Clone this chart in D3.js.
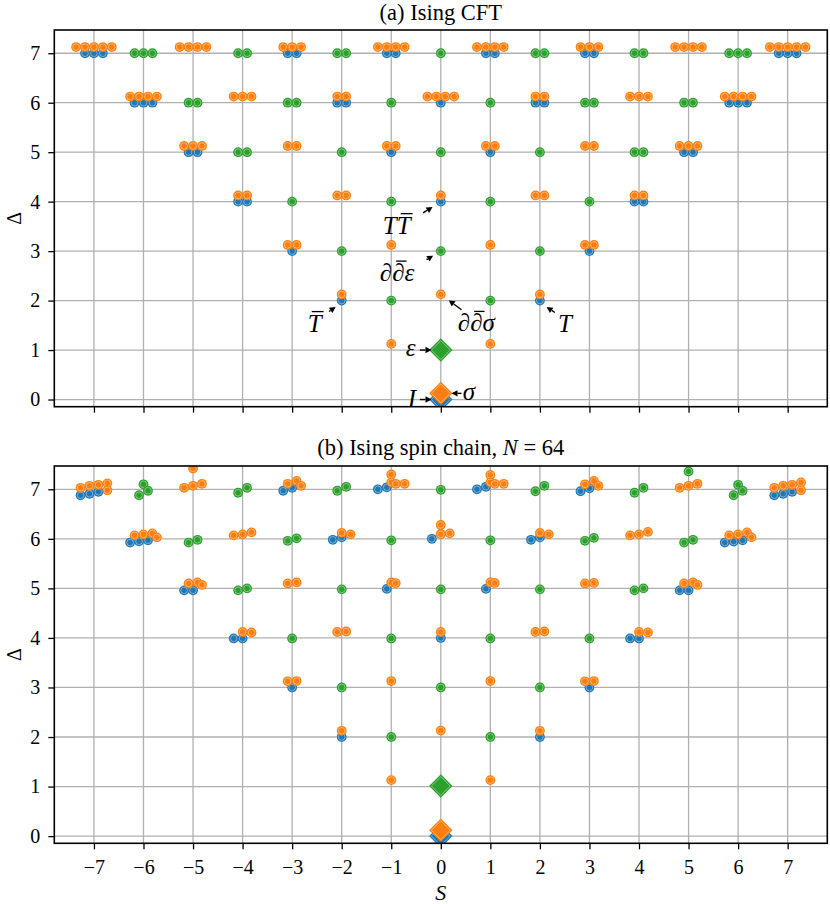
<!DOCTYPE html>
<html>
<head>
<meta charset="utf-8">
<script src="https://cdn.jsdelivr.net/npm/d3@7"></script>
<style>
body { margin: 0; background: #fff; }
text { font-family: "Liberation Serif", "DejaVu Serif", serif; fill: #000; }
.tick text { font-size: 20px; }
.math { font-style: italic; font-size: 25px; }
</style>
</head>
<body>
<div id="chart"></div>
<script>
/* ---- (a) Ising CFT: descendants of each primary, spin S, dimension Delta, degeneracy N ---- */
var idS = [-2, 2, -3, 3, -4, 4, 0, -5, 5, -1, 1, -6, 6, -2, 2, 0, -7, 7, -3, 3, -1, 1];
var idD = [2, 2, 3, 3, 4, 4, 4, 5, 5, 5, 5, 6, 6, 6, 6, 6, 7, 7, 7, 7, 7, 7];
var idN = [1, 1, 1, 1, 2, 2, 1, 2, 2, 1, 1, 3, 3, 2, 2, 1, 3, 3, 2, 2, 2, 2];

var sigS = [-1, 1, -2, 2, 0, -3, 3, -1, 1, -4, 4, -2, 2, 0, -5, 5, -3, 3, -1, 1,
            -6, 6, -4, 4, -2, 2, 0, -7, 7, -5, 5, -3, 3, -1, 1];
var sigD = [1.125, 1.125, 2.125, 2.125, 2.125, 3.125, 3.125, 3.125, 3.125,
            4.125, 4.125, 4.125, 4.125, 4.125, 5.125, 5.125, 5.125, 5.125, 5.125, 5.125,
            6.125, 6.125, 6.125, 6.125, 6.125, 6.125, 6.125,
            7.125, 7.125, 7.125, 7.125, 7.125, 7.125, 7.125, 7.125];
var sigN = [1, 1, 1, 1, 1, 2, 2, 1, 1, 2, 2, 2, 2, 1, 3, 3, 2, 2, 2, 2,
            4, 4, 3, 3, 2, 2, 4, 5, 5, 4, 4, 3, 3, 4, 4];

var epsS = [-1, 1, -2, 2, 0, -3, 3, -1, 1, -4, 4, -2, 2, 0, -5, 5, -3, 3, -1, 1,
            -6, 6, -4, 4, -2, 2, 0];
var epsD = [2, 2, 3, 3, 3, 4, 4, 4, 4, 5, 5, 5, 5, 5, 6, 6, 6, 6, 6, 6,
            7, 7, 7, 7, 7, 7, 7];
var epsN = [1, 1, 1, 1, 1, 1, 1, 1, 1, 2, 2, 1, 1, 1, 2, 2, 2, 2, 1, 1,
            3, 3, 2, 2, 2, 2, 1];

// primaries I, sigma, epsilon
var primS = [0, 0, 0];
var primD = [0, 0.125, 1];
var chainPrimD = [0.0, 0.12, 1.01];

/* ---- (b) spin chain N=64: spin, dimension, slot (side-by-side place inside a group) ---- */
var chIdS = [-7, -7, -7, -6, -6, -6, -5, -5, -4, -4, -3, -3, -3, -2, -2, -2, -1, -1, -1, 0, 0,
             1, 1, 1, 2, 2, 2, 3, 3, 3, 4, 4, 5, 5, 6, 6, 6, 7, 7, 7];
var chIdD = [6.88, 6.91, 6.95, 5.925, 5.95, 5.97, 4.96, 4.96, 3.99, 3.99, 6.97, 7.03, 3.0,
             5.98, 6.03, 2.0, 7.0, 7.04, 4.99, 6.0, 4.0,
             7.0, 7.05, 4.99, 5.98, 6.03, 2.0, 6.96, 7.02, 3.0, 3.99, 3.99, 4.96, 4.96,
             5.925, 5.945, 5.97, 6.88, 6.91, 6.95];
var chIdSlot = [-1.5, -0.5, 0.5, -1.5, -0.5, 0.5, -1, 0, -1, 0, -1, 0, 0, -1, 0, 0, -1.5, -0.5, -0.5, -1, 0,
                -1.5, -0.5, -0.5, -1, 0, 0, -1, 0, 0, -1, 0, -1, 0, -1.5, -0.5, 0.5, -1.5, -0.5, 0.5];

var chSigS = [-7, -7, -7, -7, -7, -6, -6, -6, -6, -5, -5, -5, -5, -5, -5, -5, -4, -4, -4, -4, -4,
              -3, -3, -3, -3, -3, -3, -3, -2, -2, -2, -2, -2, -1, -1, -1, -1, -1, -1, -1, -1,
              0, 0, 0, 0, 0, 0, 1, 1, 1, 1, 1, 1, 1, 1, 2, 2, 2, 2, 2,
              3, 3, 3, 3, 3, 3, 3, 4, 4, 4, 4, 4, 5, 5, 5, 5, 5, 5, 6, 6, 6, 6, 7, 7, 7, 7, 7];
var chSigD = [7.03, 7.07, 7.09, 7.12, 6.98, 6.07, 6.09, 6.11, 6.03,
              7.42, 7.03, 7.07, 7.11, 5.10, 5.12, 5.07, 6.07, 6.09, 6.13, 4.12, 4.11,
              7.11, 7.17, 7.07, 5.10, 5.12, 3.125, 3.13, 6.12, 6.09, 4.12, 4.13, 2.125,
              7.30, 7.14, 7.11, 7.11, 5.12, 5.105, 3.13, 1.13,
              6.28, 6.10, 6.09, 6.11, 4.12, 2.13,
              7.29, 7.14, 7.11, 7.11, 5.12, 5.11, 3.13, 1.13, 6.12, 6.09, 4.12, 4.13, 2.125,
              7.10, 7.17, 7.07, 5.10, 5.11, 3.125, 3.13, 6.07, 6.09, 6.14, 4.12, 4.11,
              7.03, 7.07, 7.11, 5.10, 5.12, 5.07, 6.07, 6.09, 6.13, 6.03,
              7.03, 7.07, 7.09, 7.14, 6.98];
var chSigSlot = [-1.5, -0.5, 0.5, 1.5, 1.5, -1, 0, 1, 1.5,
                 0, -1, 0, 1, -0.5, 0.5, 1, -1, 0, 1, 0, 1,
                 -0.5, 0.5, 1, -0.5, 0.5, -0.5, 0.5, 0, 1, -0.5, 0.5, 0,
                 0, 0, 0.5, 1.5, 0, 0.5, 0, 0,
                 0, 0, 0, 1, 0, 0,
                 0, 0, 0.5, 1.5, 0, 0.5, 0, 0, 0, 1, -0.5, 0.5, 0,
                 -0.5, 0.5, 1, -0.5, 0.5, -0.5, 0.5, -1, 0, 1, 0, 1,
                 -1, 0, 1, -0.5, 0.5, 1, -1, 0, 1, 1.5,
                 -1.5, -0.5, 0.5, 1.5, 1.5];

var chEpsS = [-6, -6, -6, -5, -5, -4, -4, -4, -4, -3, -3, -3, -2, -2, -2, -2, -1, -1, -1,
              0, 0, 0, 1, 1, 1, 2, 2, 2, 2, 3, 3, 3, 4, 4, 4, 4, 5, 5, 5, 6, 6, 6];
var chEpsD = [7.10, 6.88, 6.97, 5.925, 5.98, 6.93, 7.03, 4.96, 5.00, 5.96, 6.01, 3.99,
              6.97, 7.05, 4.98, 3.0, 5.97, 3.99, 2.0, 6.99, 4.98, 3.0, 5.97, 3.99, 2.0,
              6.96, 7.07, 4.98, 3.0, 5.96, 6.02, 3.99, 6.93, 7.03, 4.96, 5.00,
              7.36, 5.925, 5.98, 7.09, 6.88, 6.97];
var chEpsSlot = [0, -0.5, 0.5, -0.5, 0.5, -0.5, 0.5, -0.5, 0.5, -0.5, 0.5, 0,
                 -0.5, 0.5, 0, 0, 0, 0, 0, 0, 0, 0, 0, 0, 0,
                 -0.5, 0.5, 0, 0, -0.5, 0.5, 0, -0.5, 0.5, -0.5, 0.5,
                 0, -0.5, 0.5, 0, -0.5, 0.5];

var sTicks = d3.range(-7, 8);
var dTicks = d3.range(0, 8);
var colors = ["#1f77b4", "#ff7f0e", "#2ca02c"];
var gap = 0.18; // horizontal spread of degenerate states

/* ---- build point lists ---- */
function cftPoints(S, D, N, c) {
  var out = [];
  for (var i = 0; i < S.length; i++) {
    for (var k = 0; k < N[i]; k++) {
      out.push({s: S[i], d: D[i], slot: k - (N[i] - 1) / 2, c: c});
    }
  }
  return out;
}
function chainPoints(S, D, slot, c) {
  return S.map(function(s, i) { return {s: s, d: D[i], slot: slot[i], c: c}; });
}

var panelA = [].concat(cftPoints(idS, idD, idN, 0), cftPoints(sigS, sigD, sigN, 1),
                       cftPoints(epsS, epsD, epsN, 2));
var panelB = [].concat(chainPoints(chIdS, chIdD, chIdSlot, 0), chainPoints(chSigS, chSigD, chSigSlot, 1),
                       chainPoints(chEpsS, chEpsD, chEpsSlot, 2));

var svg = d3.select("#chart").append("svg").attr("width", 830).attr("height", 904);
var x = d3.scaleLinear().domain([-7.8, 7.8]).range([54.3, 827.3]);

var panels = [
  {top: 30, bottom: 406.7, pts: panelA, prim: primD, labels: false, titleY: 19.5},
  {top: 466, bottom: 843.3, pts: panelB, prim: chainPrimD, labels: true, titleY: 455}
];

function diamond(h) { return "M0," + (-h) + "L" + h + ",0L0," + h + "L" + (-h) + ",0Z"; }

panels.forEach(function(p, pi) {
  var y = d3.scaleLinear().domain([-0.145, 7.47]).range([p.bottom, p.top]);
  p.y = y;
  var g = svg.append("g");

  // grid
  g.selectAll(".gx").data(sTicks).enter().append("line")
    .attr("x1", function(d) { return x(d); }).attr("x2", function(d) { return x(d); })
    .attr("y1", p.top).attr("y2", p.bottom)
    .attr("stroke", "#b0b0b0").attr("stroke-width", 1.3);
  g.selectAll(".gy").data(dTicks).enter().append("line")
    .attr("x1", x.range()[0]).attr("x2", x.range()[1])
    .attr("y1", function(d) { return y(d); }).attr("y2", function(d) { return y(d); })
    .attr("stroke", "#b0b0b0").attr("stroke-width", 1.3);

  var clipId = "clip" + pi;
  svg.append("clipPath").attr("id", clipId).append("rect")
    .attr("x", x.range()[0]).attr("y", p.top)
    .attr("width", x.range()[1] - x.range()[0]).attr("height", p.bottom - p.top);
  var pg = g.append("g").attr("clip-path", "url(#" + clipId + ")");

  // descendants
  var dots = pg.selectAll(".dot").data(p.pts).enter().append("g")
    .attr("transform", function(d) { return "translate(" + x(d.s + d.slot * gap) + "," + y(d.d) + ")"; });
  dots.append("circle").attr("r", 4.9).attr("fill", function(d) { return colors[d.c]; });
  dots.append("circle").attr("r", 3.3).attr("fill", "none")
    .attr("stroke", "#fff").attr("stroke-opacity", 0.45).attr("stroke-width", 0.9);

  // primaries
  var pr = pg.selectAll(".prim").data(p.prim).enter().append("g")
    .attr("transform", function(d, i) { return "translate(" + x(primS[i]) + "," + y(d) + ")"; });
  pr.append("path").attr("d", diamond(11.7)).attr("fill", function(d, i) { return colors[i]; });
  pr.append("path").attr("d", diamond(9.4)).attr("fill", "none")
    .attr("stroke", "#fff").attr("stroke-opacity", 0.45).attr("stroke-width", 0.9);

  // axes
  var ya = d3.axisLeft(y).tickValues(dTicks).tickSize(6).tickPadding(8).tickFormat(d3.format("d"));
  var yg = svg.append("g").attr("transform", "translate(" + x.range()[0] + ",0)").call(ya);
  var xa = d3.axisBottom(x).tickValues(sTicks).tickSize(6).tickPadding(11)
    .tickFormat(p.labels ? function(d) { return d < 0 ? "\u2212" + (-d) : d; } : "");
  var xg = svg.append("g").attr("transform", "translate(0," + p.bottom + ")").call(xa);
  [yg, xg].forEach(function(a) {
    a.attr("font-family", null);
    a.select(".domain").remove();
    a.selectAll(".tick line").attr("stroke-width", 1.3);
  });
  svg.append("rect").attr("x", x.range()[0]).attr("y", p.top)
    .attr("width", x.range()[1] - x.range()[0]).attr("height", p.bottom - p.top)
    .attr("fill", "none").attr("stroke", "#000").attr("stroke-width", 1.6);

  // y label
  svg.append("text").attr("transform", "translate(21," + (p.top + p.bottom) / 2 + ") rotate(-90)")
    .attr("text-anchor", "middle").attr("font-size", 20).text("\u0394");
});

// titles
var cx = (x.range()[0] + x.range()[1]) / 2;
svg.append("text").attr("x", cx).attr("y", panels[0].titleY).attr("text-anchor", "middle")
  .attr("font-size", 22.5).text("(a) Ising CFT");
var tb = svg.append("text").attr("x", cx).attr("y", panels[1].titleY).attr("text-anchor", "middle")
  .attr("font-size", 22.5);
tb.append("tspan").text("(b) Ising spin chain, ");
tb.append("tspan").attr("font-style", "italic").text("N");
tb.append("tspan").text(" = 64");

svg.append("text").attr("x", cx).attr("y", 900).attr("text-anchor", "middle")
  .attr("font-size", 22).attr("font-style", "italic").text("S");

/* ---- annotations in panel (a) ---- */
var annParts = [
  [["T", 0], ["T", 1]],
  [["\u2202", 0], ["\u2202", 1], ["\u03b5", 0]],
  [["\u2202", 0], ["\u2202", 1], ["\u03c3", 0]],
  [["T", 1]],
  [["T", 0]],
  [["\u03b5", 0]],
  [["I", 0]],
  [["\u03c3", 0]]
];
var annS = [0, 0, 0, -2, 2, 0, 0, 0];
var annD = [4, 3, 2.125, 2, 2, 1, 0, 0.125];
// text offset, arrow tail, arrow head (pixels from the annotated point)
var annText = [[-58, 32], [-61, 30], [17, 37], [-34, 31], [18, 31], [-35, 6], [-33, 7], [22, 7]];
var annTail = [[-17.7, 11.3], [-14.3, 8.6], [20.7, 15.3], [-12.7, 10.9], [15, 11.9], [-21, 0], [-21, 0], [20.7, 0]];
var annHead = [[-8.3, 5.3], [-7.7, 4.6], [8, 6], [-6, 6.5], [6.7, 6.5], [-9.3, 0], [-9.3, 0], [10.7, 0]];

var ya0 = panels[0].y;
var ag = svg.append("g");
annParts.forEach(function(parts, i) {
  var px = x(annS[i]), py = ya0(annD[i]);
  var tx = px + annText[i][0], ty = py + annText[i][1];
  parts.forEach(function(pt) {
    var t = ag.append("text").attr("class", "math").attr("x", tx).attr("y", ty).text(pt[0]);
    var w = t.node().getComputedTextLength();
    if (pt[1]) {
      ag.append("line").attr("x1", tx + 4).attr("x2", tx + w + 2)
        .attr("y1", ty - 20).attr("y2", ty - 20)
        .attr("stroke", "#000").attr("stroke-width", 1.3);
    }
    tx += w;
  });
  var x1 = px + annTail[i][0], y1 = py + annTail[i][1];
  var x2 = px + annHead[i][0], y2 = py + annHead[i][1];
  var ang = Math.atan2(y2 - y1, x2 - x1), L = 6, Wd = 3.2;
  var bx = x2 - L * Math.cos(ang), by = y2 - L * Math.sin(ang);
  ag.append("line").attr("x1", x1).attr("y1", y1).attr("x2", bx).attr("y2", by)
    .attr("stroke", "#000").attr("stroke-width", 1.4);
  ag.append("path").attr("fill", "#000")
    .attr("d", "M" + x2 + "," + y2 +
      "L" + (bx + Wd * Math.sin(ang)) + "," + (by - Wd * Math.cos(ang)) +
      "L" + (bx - Wd * Math.sin(ang)) + "," + (by + Wd * Math.cos(ang)) + "Z");
});
</script>
</body>
</html>
